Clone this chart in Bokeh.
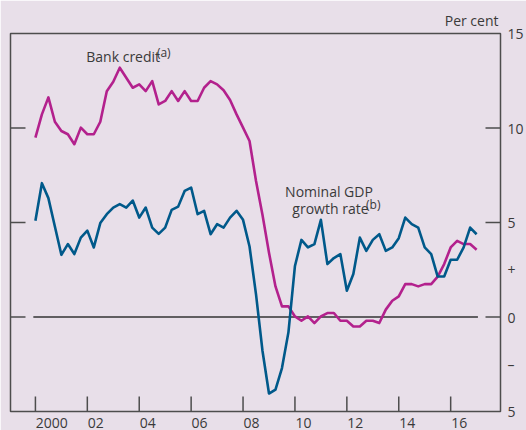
import math
from bokeh.plotting import figure
from bokeh.models import (Range1d, FixedTicker, LinearAxis, Label, Title)
from bokeh.embed import file_html
from bokeh.resources import INLINE

# ---------------- data (quarterly, 2000 Q1 .. 2017 Q1) ----------------
start_year = 2000
n_quarters = 69
quarters = [start_year + q / 4 for q in range(n_quarters)]

bank_credit = [
    9.49, 10.72, 11.62, 10.33, 9.84, 9.67, 9.14, 10.02, 9.67, 9.67,
    10.33, 11.95, 12.45, 13.19, 12.66, 12.13, 12.31, 11.95, 12.48, 11.25,
    11.43, 11.95, 11.43, 11.95, 11.43, 11.43, 12.13, 12.48, 12.31, 12.00,
    11.48, 10.72, 10.02, 9.31, 7.20, 5.40, 3.40, 1.62, 0.56, 0.56,
    0.03, -0.20, 0.03, -0.32, 0.03, 0.21, 0.21, -0.20, -0.20, -0.50,
    -0.50, -0.20, -0.20, -0.32, 0.39, 0.86, 1.09, 1.74, 1.74, 1.62,
    1.74, 1.74, 2.14, 2.80, 3.68, 4.03, 3.86, 3.86, 3.56,
]

nominal_gdp = [
    5.09, 7.08, 6.29, 4.79, 3.29, 3.86, 3.33, 4.20, 4.57, 3.68,
    4.97, 5.44, 5.79, 5.97, 5.79, 6.16, 5.26, 5.79, 4.73, 4.40,
    4.73, 5.67, 5.84, 6.67, 6.85, 5.44, 5.62, 4.38, 4.91, 4.73,
    5.26, 5.62, 5.14, 3.73, 1.20, -1.80, -4.05, -3.84, -2.70, -0.80,
    2.70, 4.08, 3.68, 3.86, 5.14, 2.80, 3.12, 3.33, 1.39, 2.27,
    4.20, 3.50, 4.08, 4.38, 3.50, 3.68, 4.17, 5.26, 4.91, 4.73,
    3.68, 3.33, 2.14, 2.14, 3.03, 3.03, 3.68, 4.73, 4.38,
]

x_tick_years = [2000, 2002, 2004, 2006, 2008, 2010, 2012, 2014, 2016]
x_tick_labels = ["2000", "02", "04", "06", "08", "10", "12", "14", "16"]

y_label_ticks = [15, 10, 5, 2.5, 0, -2.5, -5]
y_label_texts = ["15", "10", "5", "+", "0", "\u2013", "5"]
y_mark_ticks = [10, 5, 0]

# ---------------- styling ----------------
BG = "#E8DFE9"
MAGENTA = "#B3218D"
BLUE = "#00598A"
AXIS = "#4D4D4D"
TEXT = "#3A3A3A"
FONT = "Open Sans"

x0, x1 = 1999.04, 2017.92
y0, y1 = -5, 15
W, H = 526, 430
FRAME_W, FRAME_H = 492, 378
px_per_year = FRAME_W / (x1 - x0)

p = figure(width=W, height=H, x_range=Range1d(x0, x1), y_range=Range1d(y0, y1),
           output_backend="svg", toolbar_location=None,
           x_axis_location=None, y_axis_location=None,
           min_border_left=10, min_border_right=24, min_border_top=33,
           min_border_bottom=19)
p.background_fill_color = BG
p.border_fill_color = BG
p.outline_line_color = AXIS
p.outline_line_width = 1.5
p.grid.visible = False

# "Per cent" unit label above the right end of the frame
t = Title(text="Per cent", align="right", text_font=FONT, text_font_size="14px",
          text_color=TEXT, text_font_style="normal", standoff=8, offset=2)
p.add_layout(t, "above")

# right axis: labels only
ax = LinearAxis(ticker=FixedTicker(ticks=y_label_ticks))
ax.major_label_overrides = {t_: s for t_, s in zip(y_label_ticks, y_label_texts)}
ax.major_tick_in = 0
ax.major_tick_out = 0
ax.minor_tick_in = 0
ax.minor_tick_out = 0
ax.axis_line_color = None
ax.major_label_standoff = 7
ax.major_label_text_font = FONT
ax.major_label_text_font_size = "14px"
ax.major_label_text_color = TEXT
p.add_layout(ax, "right")

# bottom axis: labels sit just right of each tick (centred on half the label width)
digit_px = 8.0
label_pos = [round(yr + (len(s) * digit_px / 2 + 0.5) / px_per_year, 3)
             for yr, s in zip(x_tick_years, x_tick_labels)]
bx = LinearAxis(ticker=FixedTicker(ticks=label_pos))
bx.major_label_overrides = {pos: s for pos, s in zip(label_pos, x_tick_labels)}
bx.major_tick_in = 0
bx.major_tick_out = 0
bx.minor_tick_in = 0
bx.minor_tick_out = 0
bx.axis_line_color = None
bx.major_label_standoff = 6
bx.major_label_text_font = FONT
bx.major_label_text_font_size = "14px"
bx.major_label_text_color = TEXT
p.add_layout(bx, "below")

# inside tick marks (rays of fixed screen length from the frame edges)
p.ray(x=[x0] * len(y_mark_ticks), y=y_mark_ticks, length=15, length_units="screen",
      angle=0, line_color=AXIS, line_width=1.5)
p.ray(x=[x1] * len(y_mark_ticks), y=y_mark_ticks, length=15, length_units="screen",
      angle=math.pi, line_color=AXIS, line_width=1.5)
p.ray(x=x_tick_years, y=[y0] * len(x_tick_years), length=15, length_units="screen",
      angle=math.pi / 2, line_color=AXIS, line_width=1.5)

# zero line
p.line(x=[quarters[0] - 0.08, quarters[-1] + 0.05], y=[0, 0], line_color="#333333",
       line_width=1.3)

# series
p.line(x=quarters, y=bank_credit, line_color=MAGENTA, line_width=2.6,
       line_join="round")
p.line(x=quarters, y=nominal_gdp, line_color=BLUE, line_width=2.6,
       line_join="round")

def lab(x, y, t_, size="14px", align="left"):
    p.add_layout(Label(x=x, y=y, text=t_, text_font=FONT, text_font_size=size,
                       text_color=TEXT, text_align=align,
                       text_baseline="alphabetic", y_offset=5))

lab(2001.96, 13.51, "Bank credit")
lab(2004.68, 13.75, "(a)", size="12px")
lab(2009.62, 6.37, "Nominal GDP")
lab(2009.90, 5.49, "growth rate")
lab(2012.74, 5.67, "(b)", size="12px")

open("out.html", "w").write(file_html(p, INLINE))
